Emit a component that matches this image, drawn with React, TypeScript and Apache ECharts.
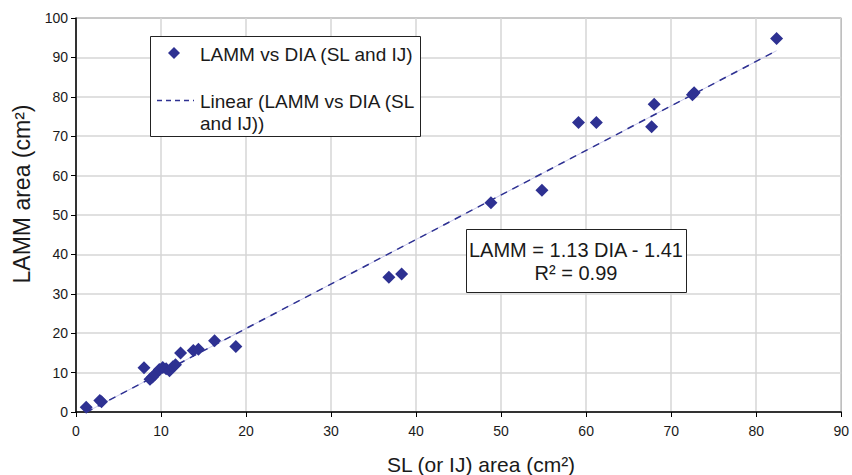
import React, { useEffect, useRef } from "react";
import * as echarts from "echarts";

const diaValues = [1.2, 2.8, 3.0, 8.0, 8.7, 9.0, 9.3, 9.8, 10.2, 10.6, 11.0, 11.4, 11.7, 12.3, 13.8, 14.4, 16.3, 18.8, 36.8, 38.3, 48.8, 54.8, 59.1, 61.2, 67.7, 68.0, 72.5, 72.7, 82.4];
const lammValues = [1.2, 2.9, 2.6, 11.2, 8.3, 8.9, 9.6, 10.8, 11.3, 11.0, 10.5, 11.5, 12.0, 15.0, 15.6, 15.9, 18.1, 16.6, 34.2, 35.0, 53.1, 56.3, 73.5, 73.5, 72.4, 78.1, 80.5, 81.0, 94.8];
const fitSlope = 1.13;
const fitIntercept = -1.41;
const xTicks = { min: 0, max: 90, interval: 10 };
const yTicks = { min: 0, max: 100, interval: 10 };

const seriesName = "LAMM vs DIA (SL and IJ)";
const trendName1 = "Linear (LAMM vs DIA (SL";
const trendName2 = "and IJ))";
const equationText = "LAMM = 1.13 DIA - 1.41";
const r2Text = "R² = 0.99";
const xTitle = "SL (or IJ) area (cm²)";
const yTitle = "LAMM area (cm²)";

const FONT = "'Liberation Sans', Arial, sans-serif";
const BLUE = "#2e3192";
const TXT = "#1a1a1a";

export default function App() {
  const ref = useRef<HTMLDivElement>(null);
  useEffect(() => {
    if (!ref.current) return;
    const chart = echarts.init(ref.current, null, { renderer: "svg" });
    const pts = diaValues.map((x, i) => [x, lammValues[i]]);
    const xMin = Math.min(...diaValues);
    const xMax = Math.max(...diaValues);
    const trend = [
      [xMin, fitSlope * xMin + fitIntercept],
      [xMax, fitSlope * xMax + fitIntercept],
    ];
    const Z = 100;
    chart.setOption({
      animation: false,
      backgroundColor: "#fff",
      textStyle: { fontFamily: FONT },
      grid: { left: 76, right: 6, top: 18, bottom: 63, show: true, borderColor: "#444", borderWidth: 1 },
      xAxis: {
        type: "value",
        min: xTicks.min,
        max: xTicks.max,
        interval: xTicks.interval,
        axisLine: { show: true, onZero: false, lineStyle: { color: "#000", width: 1.5 } },
        axisTick: { show: true, inside: false, length: 5, lineStyle: { color: "#000" } },
        axisLabel: { color: TXT, fontSize: 14, fontFamily: FONT, margin: 12 },
        splitLine: { show: true, lineStyle: { color: "#d6d6d6", width: 1.5 } },
      },
      yAxis: {
        type: "value",
        min: yTicks.min,
        max: yTicks.max,
        interval: yTicks.interval,
        axisLine: { show: true, onZero: false, lineStyle: { color: "#000", width: 1.5 } },
        axisTick: { show: true, inside: false, length: 5, lineStyle: { color: "#000" } },
        axisLabel: { color: TXT, fontSize: 14, fontFamily: FONT, margin: 8 },
        splitLine: { show: true, lineStyle: { color: "#d6d6d6", width: 1.5 } },
      },
      series: [
        {
          type: "line",
          data: trend,
          symbol: "none",
          silent: true,
          lineStyle: { color: "#c9c9ea", width: 1 },
          z: 2,
        },
        {
          type: "line",
          data: trend,
          symbol: "none",
          silent: true,
          lineStyle: { color: BLUE, width: 1.5, type: [7, 6] },
          z: 3,
        },
        {
          type: "scatter",
          name: seriesName,
          data: pts,
          symbol: "diamond",
          symbolSize: [13, 13],
          itemStyle: { color: BLUE, opacity: 1 },
          z: 4,
        },
      ],
      graphic: [
        {
          type: "rect",
          z: Z,
          shape: { x: 150.5, y: 36.5, width: 270, height: 100 },
          style: { fill: "#fff", stroke: "#222", lineWidth: 1 },
        },
        {
          type: "polygon",
          z: Z + 1,
          shape: { points: [[174, 47], [180, 53], [174, 59], [168, 53]] },
          style: { fill: BLUE },
        },
        {
          type: "text",
          z: Z + 1,
          x: 200,
          y: 54,
          style: { text: seriesName, font: `19px ${FONT}`, fill: TXT, verticalAlign: "middle", align: "left" },
        },
        {
          type: "line",
          z: Z + 1,
          shape: { x1: 157, y1: 100.5, x2: 194, y2: 100.5 },
          style: { stroke: BLUE, lineWidth: 1.5, lineDash: [5, 4] },
        },
        {
          type: "text",
          z: Z + 1,
          x: 200,
          y: 101,
          style: { text: trendName1, font: `19px ${FONT}`, fill: TXT, verticalAlign: "middle", align: "left" },
        },
        {
          type: "text",
          z: Z + 1,
          x: 200,
          y: 123,
          style: { text: trendName2, font: `19px ${FONT}`, fill: TXT, verticalAlign: "middle", align: "left" },
        },
        {
          type: "rect",
          z: Z,
          shape: { x: 466.5, y: 229.5, width: 220, height: 63 },
          style: { fill: "#fff", stroke: "#222", lineWidth: 1 },
        },
        {
          type: "text",
          z: Z + 1,
          x: 576,
          y: 250,
          style: { text: equationText, font: `20px ${FONT}`, fill: TXT, verticalAlign: "middle", align: "center" },
        },
        {
          type: "text",
          z: Z + 1,
          x: 576,
          y: 273,
          style: { text: r2Text, font: `20px ${FONT}`, fill: TXT, verticalAlign: "middle", align: "center" },
        },
        {
          type: "text",
          z: Z,
          x: 481,
          y: 464,
          style: { text: xTitle, font: `21px ${FONT}`, fill: TXT, verticalAlign: "middle", align: "center" },
        },
        {
          type: "text",
          z: Z,
          x: 22,
          y: 194,
          rotation: Math.PI / 2,
          style: { text: yTitle, font: `23px ${FONT}`, fill: TXT, verticalAlign: "middle", align: "center" },
        },
      ],
    });
    return () => chart.dispose();
  }, []);
  return <div ref={ref} style={{ width: 852, height: 475, position: "fixed", left: 0, top: 0 }} />;
}
